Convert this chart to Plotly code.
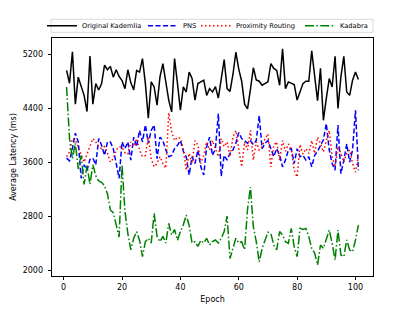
import plotly.graph_objects as go

epochs = list(range(1, 102))

original_kademlia = [
    4960, 4770, 5235, 4460, 4860, 4710, 4590, 4350, 5175, 4460,
    4765, 4670, 4765, 5040, 4970, 5020, 4860, 4970, 4870, 4810,
    4690, 4970, 4780, 4670, 4960, 4935, 5135, 4765, 4250, 4790,
    4715, 4445, 4865, 5060, 4765, 4520, 4345, 5135, 4765, 4370,
    4715, 4640, 4935, 4840, 4520, 4765, 4790, 4815, 4590, 4690,
    4640, 4720, 4550, 4860, 5120, 4690, 4650, 4900, 5230, 4980,
    4800, 4460, 4390, 4680, 5000, 4820, 4800, 4740, 4770, 4790,
    5060, 4990, 4960, 4740, 5280, 4690, 4790, 4765, 4750, 4520,
    4640, 4765, 4800, 4800, 5250, 4910, 4510, 4990, 4220, 4545,
    4840, 4715, 5170, 4395, 4865, 5170, 4640, 4590, 4815, 4935,
    4825,
]

pns = [
    3660, 3620, 3800, 4030, 3900, 3360, 3560, 3480, 3640, 3660,
    3560, 3950, 3850, 3700, 3900, 3900, 3800, 3560, 3360, 3900,
    3800, 3900, 3630, 3970, 3830, 4070, 3900, 4150, 3880, 4070,
    4150, 3650, 3970, 3920, 3780, 3680, 3700, 3800, 3850, 3920,
    3760, 3680, 3410, 3680, 3580, 3780, 3530, 3410, 3830, 3970,
    3700, 3800, 4320, 3390, 3700, 3630, 3730, 3780, 3880, 4040,
    3950, 3920, 3880, 3920, 3860, 3920, 4290, 3800, 3880, 3920,
    3800, 3680, 3800, 3700, 3530, 3630, 3780, 3800, 3580, 3800,
    3680, 3700, 3630, 3680, 3530, 3700, 3760, 3850, 3930, 4170,
    3780, 3580, 3480, 4150, 3430, 3630, 3870, 3600, 3780, 4370,
    3480,
]

proximity_routing = [
    3680, 3750, 3950, 3930, 3820, 3700, 3600, 3720, 3830, 3950,
    3900, 3820, 3800, 3830, 3730, 3600, 3650, 3780, 3830, 3820,
    3740, 3720, 3900, 3830, 3950, 3780, 3680, 3700, 3970, 3650,
    3530, 3580, 3680, 3580, 3510, 4330, 4050, 3920, 3970, 3950,
    3800, 3480, 3730, 3580, 3920, 3850, 3580, 3700, 3900, 3780,
    3920, 3800, 3680, 3950, 3830, 3900, 3680, 3970, 4070, 3800,
    3530, 3900, 3780, 4070, 3630, 3900, 3780, 3830, 3950, 4020,
    3530, 3850, 3900, 3630, 3920, 3760, 3870, 3780, 3480, 3380,
    3860, 3720, 3800, 3730, 3920, 3730, 3970, 3880, 3750, 3920,
    4070, 3680, 3530, 3830, 3730, 3600, 3730, 3780, 3580, 3450,
    3700,
]

kadabra = [
    4715, 3950, 3650, 3880, 3500, 3700, 3270, 3550, 3270, 3560,
    3400, 3320, 3300, 3250, 3130, 2890, 2850, 2670, 2490, 3560,
    2870, 2540, 2300, 2470, 2570, 2440, 2200, 2420, 2470, 2400,
    2840, 2500, 2420, 2500, 2400, 2690, 2520, 2600, 2440, 2570,
    2670, 2815, 2660, 2400, 2420, 2350, 2440, 2400, 2470, 2370,
    2420, 2445, 2400, 2470, 2570, 2800, 2170, 2320, 2470, 2400,
    2420, 2300, 2900, 3230, 2640, 2420, 2120, 2320, 2440, 2560,
    2540, 2370, 2300, 2570, 2520, 2420, 2395, 2617, 2346, 2198,
    2617, 2600, 2617, 2494, 2321, 2250, 2074, 2370, 2320, 2450,
    2593, 2395, 2148, 2593, 2222, 2198, 2445, 2296, 2270, 2445,
    2667,
]

series_names = ["Original Kademlia", "PNS", "Proximity Routing", "Kadabra"]
series_values = [original_kademlia, pns, proximity_routing, kadabra]
series_colors = ["#000000", "#0000ff", "#ff0000", "#008000"]
series_dash = ["solid", "5px,2.5px", "1.5px,2.5px", "9px,2.4px,1.5px,2.4px"]
legend_ids = ["legend", "legend2", "legend3", "legend4"]

x_ticks = [0, 20, 40, 60, 80, 100]
y_ticks = [2000, 2800, 3600, 4400, 5200]

FONT = "DejaVu Sans"

# the page body adds an 8px margin around the figure
OFF = 8
FIG_W, FIG_H = 415 - OFF, 311 - OFF
L, R, T, B = 52, 373, 38, 276          # target plot-area edges in window pixels
W, H = R - L, B - T

fig = go.Figure()
for name, vals, col, dash, lg in zip(series_names, series_values, series_colors, series_dash, legend_ids):
    fig.add_trace(go.Scatter(
        x=epochs, y=vals, mode="lines", name=name,
        line=dict(color=col, width=1.5, dash=dash),
        legend=lg,
    ))

leg_px = [42, 143, 196, 300]
leg_common = dict(
    orientation="h", yanchor="middle", y=(B - 25.8) / H, xanchor="left",
    bgcolor="rgba(0,0,0,0)", borderwidth=0,
    font=dict(family=FONT, size=6.7, color="black"),
    itemwidth=30,
)
legends = {}
for lg, px in zip(legend_ids, leg_px):
    legends[lg] = dict(x=(px - L) / W, **leg_common)

fig.update_layout(
    width=FIG_W, height=FIG_H,
    margin=dict(l=L - OFF, r=FIG_W + OFF - R, t=T - OFF, b=FIG_H + OFF - B, autoexpand=False),
    paper_bgcolor="white", plot_bgcolor="white",
    font=dict(family=FONT, size=8, color="black"),
    showlegend=True,
    **legends,
    xaxis=dict(
        range=[-4, 106], tickvals=x_ticks, ticktext=[str(v) for v in x_ticks],
        ticks="outside", ticklen=3.5, tickwidth=0.8, tickcolor="black",
        showline=True, linecolor="black", linewidth=0.8, mirror=True,
        showgrid=False, zeroline=False, ticklabelstandoff=0, automargin=False,
        title=dict(text="Epoch", font=dict(size=8), standoff=5),
        tickfont=dict(size=8),
    ),
    yaxis=dict(
        range=[1911, 5441], tickvals=y_ticks, ticktext=[str(v) for v in y_ticks],
        ticks="outside", ticklen=3.5, tickwidth=0.8, tickcolor="black",
        showline=True, linecolor="black", linewidth=0.8, mirror=True,
        showgrid=False, zeroline=False, ticklabelstandoff=3, automargin=False,
        title=dict(text="Average Latency (ms)", font=dict(size=8), standoff=4),
        tickfont=dict(size=8),
    ),
    shapes=[dict(
        type="rect", xref="paper", yref="paper",
        x0=(51 - L) / W, x1=(373 - L) / W,
        y0=(B - 32.3) / H, y1=(B - 19.3) / H,
        line=dict(color="#d0d0d0", width=0.8), fillcolor="white", layer="below",
    )],
)

fig.write_html("out.html")
